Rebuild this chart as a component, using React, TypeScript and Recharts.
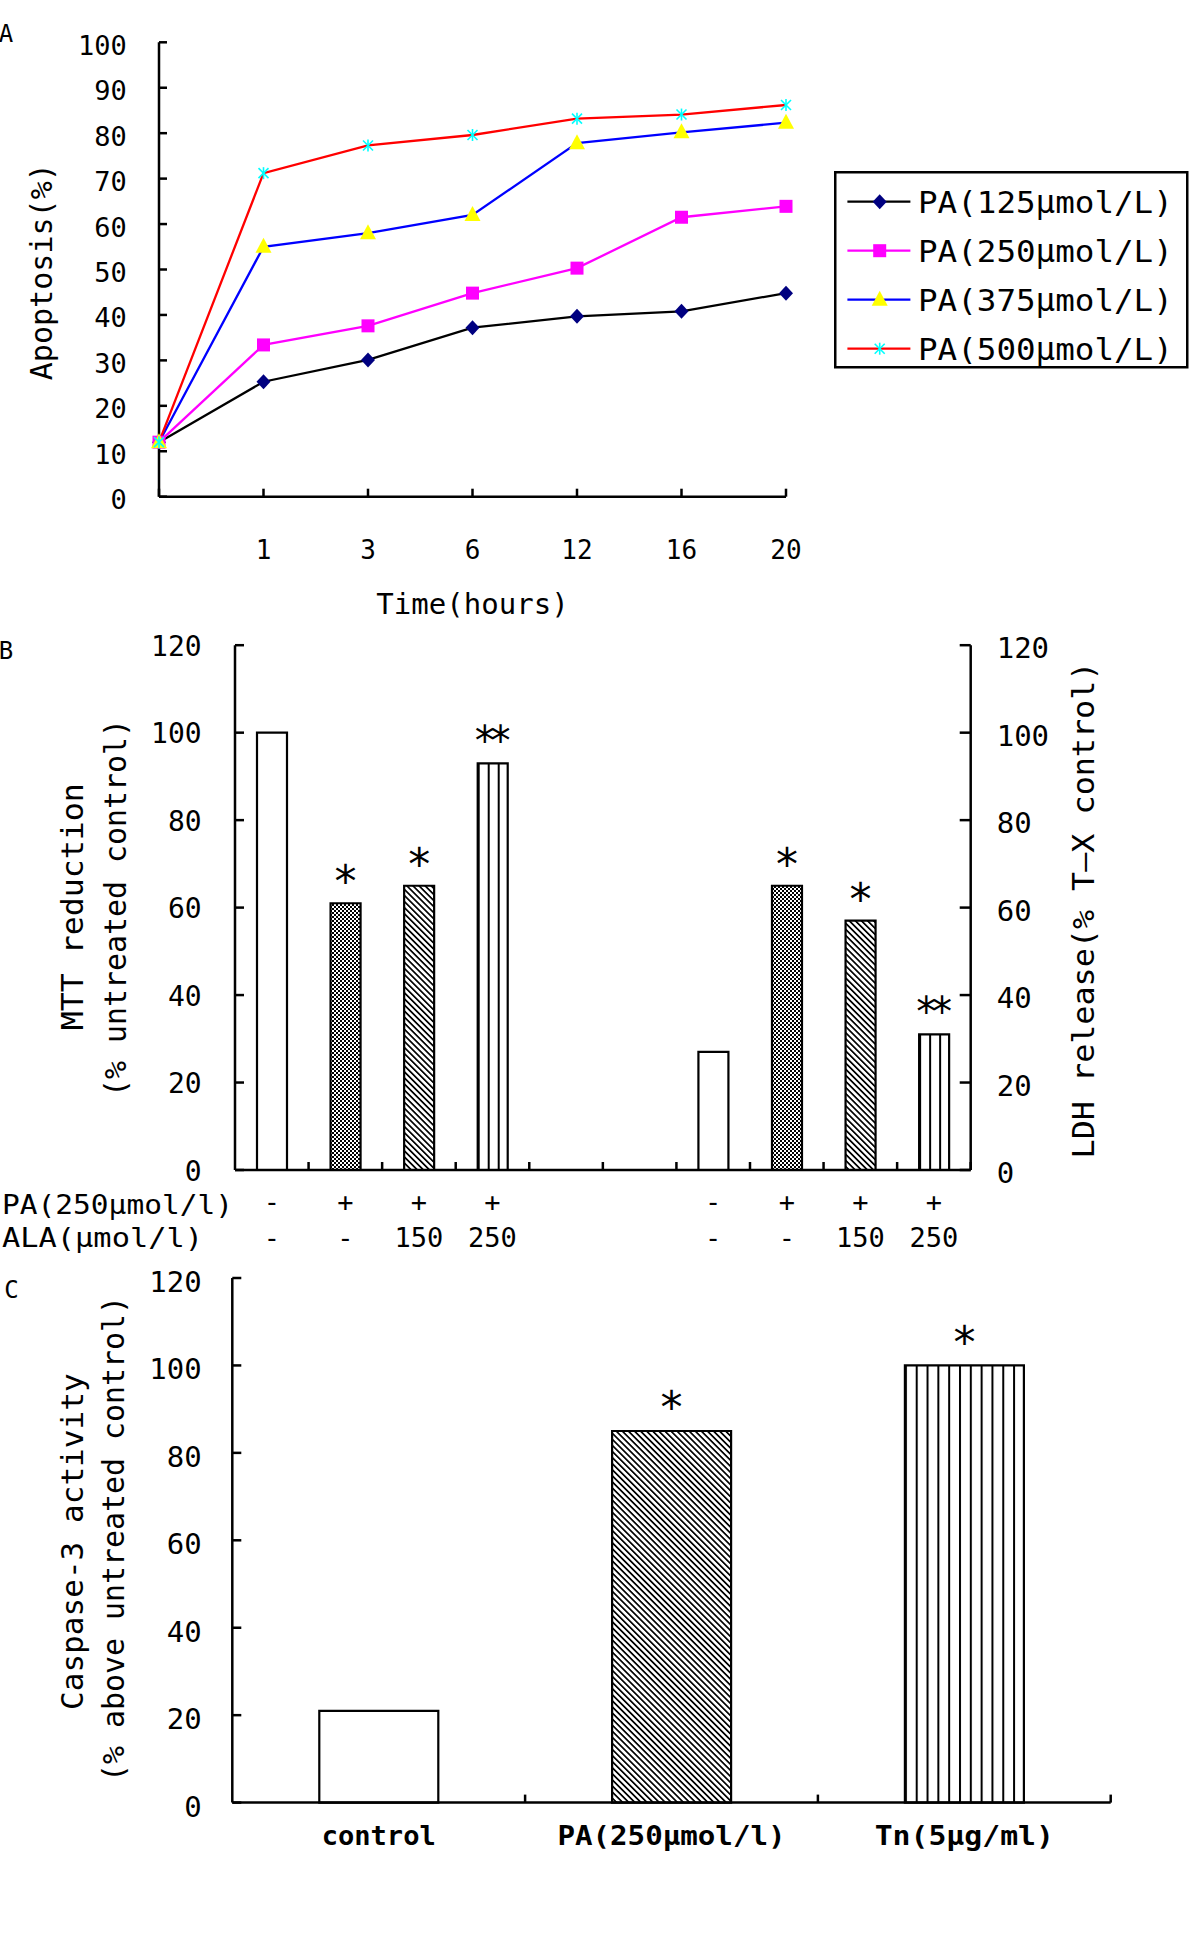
import React from "react";
import { LineChart, Line, BarChart, Bar, XAxis, YAxis, Legend, Cell, LabelList } from "recharts";

const MONO = "'DejaVu Sans Mono', 'Liberation Mono', monospace";
const AXIS = { stroke: "#000", strokeWidth: 2.5 };

// ---------------- Panel A : apoptosis time course ----------------
const timeLabels = ["0", "1", "3", "6", "12", "16", "20"];
const pa125 = [12, 25.3, 30.1, 37.2, 39.7, 40.8, 44.8];
const pa250 = [12, 33.4, 37.6, 44.8, 50.3, 61.5, 63.9];
const pa375 = [12, 55.0, 58.0, 62.0, 77.8, 80.2, 82.3];
const pa500 = [12, 71.2, 77.3, 79.6, 83.2, 84.1, 86.2];
const seriesNamesA = ["PA(125μmol/L)", "PA(250μmol/L)", "PA(375μmol/L)", "PA(500μmol/L)"];
const apoptosisTicks = [0, 10, 20, 30, 40, 50, 60, 70, 80, 90, 100];

// ---------------- Panel B : MTT / LDH ----------------
const paRow = ["-", "+", "+", "+", "", "", "-", "+", "+", "+"];
const alaRow = ["-", "-", "150", "250", "", "", "-", "-", "150", "250"];
const mttValues = [100, 61, 65, 93];
const mttSig = ["", "*", "*", "**"];
const ldhValues = [27, 65, 57, 31];
const ldhSig = ["", "*", "*", "**"];
const percentTicks = [0, 20, 40, 60, 80, 100, 120];

// ---------------- Panel C : caspase-3 ----------------
const caspaseGroups = ["control", "PA(250μmol/l)", "Tn(5μg/ml)"];
const caspaseValues = [21, 85, 100];
const caspaseSig = ["", "*", "*"];

// ---------------- tables built from the arrays ----------------
const rowsA = timeLabels.map((time, i) => ({
  time,
  pa125: pa125[i],
  pa250: pa250[i],
  pa375: pa375[i],
  pa500: pa500[i],
}));

const MTT_START = 0;
const LDH_START = 6;
const pick = (arr: any[], j: number, empty: any) => (j >= 0 && j < arr.length ? arr[j] : empty);
const rowsB = paRow.map((pa, i) => ({
  slot: `s${i}`,
  pa,
  ala: alaRow[i],
  mtt: pick(mttValues, i - MTT_START, null),
  mttSig: pick(mttSig, i - MTT_START, ""),
  ldh: pick(ldhValues, i - LDH_START, null),
  ldhSig: pick(ldhSig, i - LDH_START, ""),
}));

const rowsC = caspaseGroups.map((name, i) => ({ name, value: caspaseValues[i], sig: caspaseSig[i] }));

// ---------------- styles ----------------
const seriesA = [
  { key: "pa125", name: seriesNamesA[0], color: "#000000", marker: "diamond" },
  { key: "pa250", name: seriesNamesA[1], color: "#FF00FF", marker: "square" },
  { key: "pa375", name: seriesNamesA[2], color: "#0000FF", marker: "triangle" },
  { key: "pa500", name: seriesNamesA[3], color: "#FF0000", marker: "star" },
];
const groupFillsB = ["#ffffff", "url(#pat-dots)", "url(#pat-diag)", "url(#pat-vert3)"];
const fillsC = ["#ffffff", "url(#pat-diag)", "url(#pat-vert11)"];

const BAND_B = (970.7 - 235) / paRow.length;
const BAND_C = (1110.7 - 232.3) / caspaseGroups.length;

const units = (s: string) =>
  Array.from(s).reduce((n, ch) => n + (ch === "μ" || ch === "—" ? 2 : 1), 0);

function Txt({ x, y, text, size = 30, unit, anchor = "middle", rotate = 0, weight = "normal" }: any) {
  return (
    <text
      x={x}
      y={y}
      fontFamily={MONO}
      fontSize={size}
      fontWeight={weight}
      textAnchor={anchor}
      dominantBaseline="central"
      fill="#000"
      textLength={unit ? units(text) * unit : undefined}
      lengthAdjust={unit ? "spacingAndGlyphs" : undefined}
      transform={rotate ? `rotate(${rotate} ${x} ${y})` : undefined}
    >
      {text}
    </text>
  );
}

function Marker({ kind, cx, cy }: any) {
  if (cx == null || cy == null || isNaN(cx) || isNaN(cy)) return null;
  switch (kind) {
    case "diamond":
      return <polygon points={`${cx},${cy - 7.5} ${cx + 7},${cy} ${cx},${cy + 7.5} ${cx - 7},${cy}`} fill="#000080" />;
    case "square":
      return <rect x={cx - 6.5} y={cy - 6.5} width={13} height={13} fill="#FF00FF" />;
    case "triangle":
      return <polygon points={`${cx},${cy - 9} ${cx + 8},${cy + 6} ${cx - 8},${cy + 6}`} fill="#FFFF00" />;
    default:
      return (
        <g stroke="#00FFFF" strokeWidth={1.6}>
          <line x1={cx - 5} y1={cy - 5} x2={cx + 5} y2={cy + 5} />
          <line x1={cx - 5} y1={cy + 5} x2={cx + 5} y2={cy - 5} />
          <line x1={cx} y1={cy - 6} x2={cx} y2={cy + 6} />
        </g>
      );
  }
}

// ---------------- tick renderers ----------------
const leftTick = (len: number, gap: number, size: number, dy: number) => (p: any) => (
  <g>
    <line x1={p.x} y1={p.y} x2={p.x + len} y2={p.y} stroke="#000" strokeWidth={2.5} />
    <text x={p.x - gap} y={p.y + dy} textAnchor="end" dominantBaseline="central" fontFamily={MONO} fontSize={size} fill="#000">
      {p.payload.value}
    </text>
  </g>
);

const rightTick = (len: number, gap: number, size: number, dy: number) => (p: any) => (
  <g>
    <line x1={p.x} y1={p.y} x2={p.x - len} y2={p.y} stroke="#000" strokeWidth={2.5} />
    <text x={p.x + gap} y={p.y + dy} textAnchor="start" dominantBaseline="central" fontFamily={MONO} fontSize={size} fill="#000">
      {p.payload.value}
    </text>
  </g>
);

const bottomTickA = (p: any) => (
  <g>
    <line x1={p.x} y1={p.y} x2={p.x} y2={p.y - 8} stroke="#000" strokeWidth={2.5} />
    {p.index === 0 ? null : (
      <text x={p.x} y={p.y + 53.3} textAnchor="middle" dominantBaseline="central" fontFamily={MONO} fontSize={26} fill="#000">
        {p.payload.value}
      </text>
    )}
  </g>
);

const bottomTickB = (p: any) => {
  const row = rowsB[p.index] || { pa: "", ala: "" };
  const bx = p.x + BAND_B / 2;
  return (
    <g>
      <line x1={bx} y1={p.y} x2={bx} y2={p.y - 8} stroke="#000" strokeWidth={2.5} />
      <text x={p.x} y={p.y + 31} textAnchor="middle" dominantBaseline="central" fontFamily={MONO} fontSize={27} fill="#000">
        {row.pa}
      </text>
      <text x={p.x} y={p.y + 67} textAnchor="middle" dominantBaseline="central" fontFamily={MONO} fontSize={27} fill="#000">
        {row.ala}
      </text>
    </g>
  );
};

const bottomTickC = (p: any) => {
  const bx = p.x + BAND_C / 2;
  return (
    <g>
      <line x1={bx} y1={p.y} x2={bx} y2={p.y - 8} stroke="#000" strokeWidth={2.5} />
      <Txt x={p.x} y={p.y + 32.4} text={String(p.payload.value)} size={27} unit={16.3} weight="bold" />
    </g>
  );
};

const starLabel = (gap: number) => (p: any) => {
  if (!p.value) return null;
  const n = String(p.value).length;
  const size = n > 1 ? 40 : 44;
  const cx = p.x + p.width / 2;
  const cy = p.y - gap;
  return (
    <text
      x={cx}
      y={cy + 0.55 * size}
      textAnchor="middle"
      fontFamily={MONO}
      fontSize={size}
      textLength={n > 1 ? n * 20 : undefined}
      lengthAdjust={n > 1 ? "spacing" : undefined}
      fill="#000"
    >
      {p.value}
    </text>
  );
};

const renderLegendA = (props: any) => {
  const payload = props.payload || [];
  return (
    <svg width={355} height={198} style={{ display: "block" }}>
      <rect x={1.25} y={1.25} width={352} height={195} fill="#fff" stroke="#000" strokeWidth={2.5} />
      {payload.map((entry: any, i: number) => {
        const cy = 30.7 + i * 49;
        const st = seriesA.find((s) => s.key === entry.dataKey) || seriesA[i];
        return (
          <g key={i}>
            <line x1={13.4} x2={76.4} y1={cy} y2={cy} stroke={entry.color} strokeWidth={2.3} />
            <Marker kind={st.marker} cx={45.7} cy={cy} />
            <Txt x={84} y={cy} text={String(entry.value)} size={31} unit={18.2} anchor="start" />
          </g>
        );
      })}
    </svg>
  );
};

function PatternDefs() {
  return (
    <svg width={0} height={0} style={{ position: "absolute", left: 0, top: 0 }}>
      <defs>
        <pattern id="pat-dots" patternUnits="userSpaceOnUse" width={4} height={4}>
          <rect width={4} height={4} fill="#fff" />
          <rect width={2} height={2} fill="#000" />
          <rect x={2} y={2} width={2} height={2} fill="#000" />
        </pattern>
        <pattern id="pat-diag" patternUnits="userSpaceOnUse" width={4.3} height={4.3} patternTransform="rotate(-45)">
          <rect width={4.3} height={4.3} fill="#fff" />
          <rect width={1.7} height={4.3} fill="#000" />
        </pattern>
        <pattern id="pat-vert3" patternUnits="objectBoundingBox" width={1 / 3} height={1}>
          <rect x={0} y={0} width={3000} height={3000} fill="#fff" />
          <rect x={0} y={0} width={2} height={3000} fill="#000" />
        </pattern>
        <pattern id="pat-vert11" patternUnits="objectBoundingBox" width={1 / 11} height={1}>
          <rect x={0} y={0} width={3000} height={3000} fill="#fff" />
          <rect x={0} y={0} width={2} height={3000} fill="#000" />
        </pattern>
      </defs>
    </svg>
  );
}

export default function App() {
  return (
    <div style={{ position: "absolute", left: 0, top: 0, width: 1200, height: 1934, background: "#fff", overflow: "hidden" }}>
      <PatternDefs />

      {/* Panel A */}
      <div style={{ position: "absolute", left: 0, top: 0 }}>
        <LineChart width={1200} height={640} data={rowsA} margin={{ top: 42.3, right: 414, bottom: 0, left: 0 }}>
          <XAxis
            dataKey="time"
            height={143.3}
            interval={0}
            tickLine={false}
            tickSize={0}
            tickMargin={0}
            axisLine={AXIS}
            tick={bottomTickA}
            label={() => <Txt x={472.5} y={604} text="Time(hours)" size={29} unit={17.5} />}
          />
          <YAxis
            domain={[0, 100]}
            ticks={apoptosisTicks}
            interval={0}
            width={159}
            tickLine={false}
            tickSize={0}
            tickMargin={0}
            axisLine={AXIS}
            tick={leftTick(8, 32.3, 27, 3)}
            label={() => <Txt x={41.7} y={271.7} text="Apoptosis(%)" size={30} unit={18.1} rotate={-90} />}
          />
          <Legend
            layout="vertical"
            align="center"
            verticalAlign="middle"
            wrapperStyle={{ left: 834, top: 171, width: 355, height: 198 }}
            content={renderLegendA}
          />
          {seriesA.map((s) => (
            <Line
              key={s.key}
              dataKey={s.key}
              name={s.name}
              type="linear"
              stroke={s.color}
              strokeWidth={2.3}
              isAnimationActive={false}
              activeDot={false}
              dot={(p: any) => <Marker key={`${s.key}-${p.index}`} kind={s.marker} cx={p.cx} cy={p.cy} />}
            />
          ))}
        </LineChart>
      </div>

      {/* Panel B */}
      <div style={{ position: "absolute", left: 0, top: 620 }}>
        <BarChart width={1200} height={640} data={rowsB} margin={{ top: 25.2, right: 0, bottom: 0, left: 0 }} barGap={-30}>
          <XAxis
            dataKey="slot"
            height={90}
            interval={0}
            tickLine={false}
            tickSize={0}
            tickMargin={0}
            axisLine={AXIS}
            tick={bottomTickB}
            label={() => (
              <g>
                <Txt x={2} y={584} text="PA(250μmol/l)" size={27} unit={16.5} anchor="start" />
                <Txt x={2} y={617} text="ALA(μmol/l)" size={27} unit={16.75} anchor="start" />
              </g>
            )}
          />
          <YAxis
            yAxisId="left"
            domain={[0, 120]}
            ticks={percentTicks}
            interval={0}
            width={235}
            tickLine={false}
            tickSize={0}
            tickMargin={0}
            axisLine={AXIS}
            tick={leftTick(9, 33.3, 28, 1)}
            label={() => (
              <g>
                <Txt x={71.7} y={286.7} text="MTT reduction" size={31} unit={19} rotate={-90} />
                <Txt x={115} y={288} text="(% untreated control)" size={30} unit={18} rotate={-90} />
              </g>
            )}
          />
          <YAxis
            yAxisId="right"
            orientation="right"
            domain={[0, 120]}
            ticks={percentTicks}
            interval={0}
            width={229.3}
            tickLine={false}
            tickSize={0}
            tickMargin={0}
            axisLine={AXIS}
            tick={rightTick(11, 26, 29, 3)}
            label={() => (
              <Txt x={1083.3} y={290} text="LDH release(% T—X control)" size={31} unit={18.4} rotate={-90} />
            )}
          />
          <Bar dataKey="mtt" yAxisId="left" barSize={30} stroke="#000" strokeWidth={2.2} isAnimationActive={false}>
            {rowsB.map((_, i) => (
              <Cell key={i} fill={pick(groupFillsB, i - MTT_START, "#ffffff")} />
            ))}
            <LabelList dataKey="mttSig" content={starLabel(30)} />
          </Bar>
          <Bar dataKey="ldh" yAxisId="right" barSize={30} stroke="#000" strokeWidth={2.2} isAnimationActive={false}>
            {rowsB.map((_, i) => (
              <Cell key={i} fill={pick(groupFillsB, i - LDH_START, "#ffffff")} />
            ))}
            <LabelList dataKey="ldhSig" content={starLabel(30)} />
          </Bar>
        </BarChart>
      </div>

      {/* Panel C */}
      <div style={{ position: "absolute", left: 0, top: 1260 }}>
        <BarChart width={1200} height={674} data={rowsC} margin={{ top: 18, right: 89.3, bottom: 0, left: 0 }}>
          <XAxis
            dataKey="name"
            height={131.4}
            interval={0}
            tickLine={false}
            tickSize={0}
            tickMargin={0}
            axisLine={AXIS}
            tick={bottomTickC}
          />
          <YAxis
            domain={[0, 120]}
            ticks={percentTicks}
            interval={0}
            width={232.3}
            tickLine={false}
            tickSize={0}
            tickMargin={0}
            axisLine={AXIS}
            tick={leftTick(9, 30.6, 29, 4)}
            label={() => (
              <g>
                <Txt x={71.7} y={281.7} text="Caspase-3 activity" size={31} unit={18.7} rotate={-90} />
                <Txt x={113.3} y={279} text="(% above untreated control)" size={30} unit={18} rotate={-90} />
              </g>
            )}
          />
          <Bar dataKey="value" barSize={119} stroke="#000" strokeWidth={2.2} isAnimationActive={false}>
            {rowsC.map((_, i) => (
              <Cell key={i} fill={fillsC[i]} />
            ))}
            <LabelList dataKey="sig" content={starLabel(32)} />
          </Bar>
        </BarChart>
      </div>

      {/* panel letters */}
      <svg width={1200} height={1934} style={{ position: "absolute", left: 0, top: 0, pointerEvents: "none" }}>
        <Txt x={6} y={34} text="A" size={24} />
        <Txt x={6} y={651} text="B" size={24} />
        <Txt x={11.5} y={1290} text="C" size={24} />
      </svg>
    </div>
  );
}
